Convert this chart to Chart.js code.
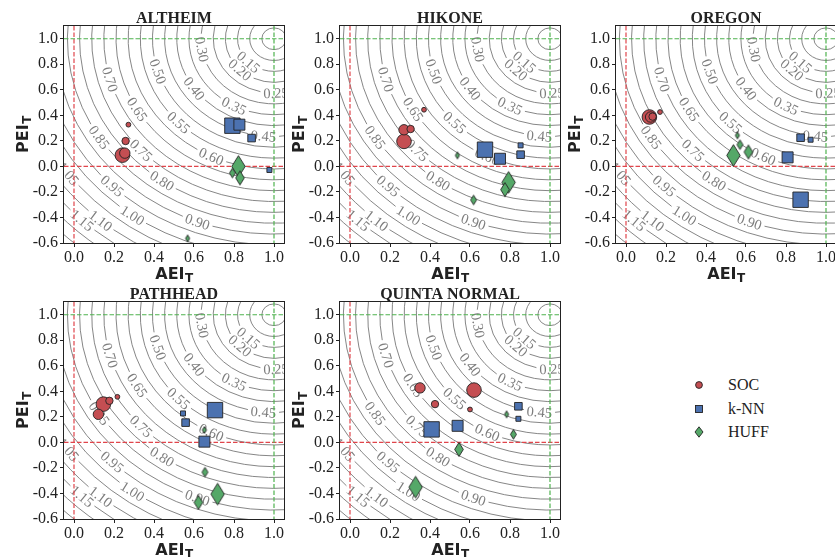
<!DOCTYPE html>
<html>
<head>
<meta charset="utf-8">
<script src="https://cdn.jsdelivr.net/npm/chart.js@4.4.1/dist/chart.umd.min.js"></script>
<style>
  html, body { margin: 0; padding: 0; background: #fff; width: 835px; height: 557px; overflow: hidden; position: relative; }
  canvas { position: absolute; }
  .leg { position: absolute; left: 690px; font-family: "Liberation Serif", serif; font-size: 16px; color: #222; height: 20px; line-height: 20px; }
  .leg svg { position: absolute; left: 0; top: 0; }
  .leg span { position: absolute; left: 38px; top: 0; white-space: nowrap; }
</style>
</head>
<body>
<div class="leg" style="top:375px"><svg width="20" height="20"><circle cx="9" cy="10" r="3.4" fill="#c44e52" stroke="#222" stroke-width="0.9"/></svg><span>SOC</span></div>
<div class="leg" style="top:399px"><svg width="20" height="20"><rect x="5.5" y="6.5" width="7" height="7" fill="#4c72b0" stroke="#222" stroke-width="0.9"/></svg><span>k-NN</span></div>
<div class="leg" style="top:422px"><svg width="20" height="20"><path d="M9 4.8 L13 10 L9 15.2 L5 10 Z" fill="#55a868" stroke="#222" stroke-width="0.9"/></svg><span>HUFF</span></div>
<script>
// panels, ticks
const panelNames = ["ALTHEIM", "HIKONE", "OREGON", "PATHHEAD", "QUINTA NORMAL"];
const xTicks = [0.0, 0.2, 0.4, 0.6, 0.8, 1.0];
const yTicks = [-0.6, -0.4, -0.2, 0.0, 0.2, 0.4, 0.6, 0.8, 1.0];

// SOC (circles): AEI_T, PEI_T and size class (0 = smallest .. 3 = largest), one row per panel
const socAEI = [[0.242, 0.254, 0.258, 0.272], [0.270, 0.270, 0.303, 0.370], [0.117, 0.123, 0.133, 0.170], [0.147, 0.122, 0.177, 0.217], [0.620, 0.350, 0.425, 0.600]];
const socPEI = [[0.088, 0.104, 0.199, 0.327], [0.196, 0.287, 0.293, 0.444], [0.387, 0.387, 0.390, 0.426], [0.300, 0.220, 0.326, 0.357], [0.410, 0.427, 0.300, 0.258]];
const socSize = [[3, 2, 1, 0], [3, 2, 1, 0], [3, 2, 1, 0], [3, 2, 1, 0], [3, 2, 1, 0]];

// k-NN (squares)
const knnAEI = [[0.792, 0.827, 0.888, 0.977], [0.675, 0.750, 0.853, 0.853], [0.873, 0.808, 0.873, 0.923], [0.705, 0.652, 0.558, 0.545], [0.408, 0.538, 0.842, 0.842]];
const knnPEI = [[0.319, 0.327, 0.222, -0.028], [0.131, 0.060, 0.092, 0.165], [-0.261, 0.071, 0.225, 0.209], [0.253, 0.006, 0.155, 0.227], [0.102, 0.130, 0.283, 0.185]];
const knnSize = [[3, 2, 1, 0], [3, 2, 1, 0], [3, 2, 1, 0], [3, 2, 1, 0], [3, 2, 1, 0]];

// HUFF (diamonds)
const huffAEI = [[0.822, 0.830, 0.792, 0.568], [0.793, 0.775, 0.618, 0.537], [0.537, 0.612, 0.570, 0.557], [0.718, 0.622, 0.655, 0.652], [0.328, 0.545, 0.817, 0.783]];
const huffPEI = [[0.000, -0.090, -0.052, -0.564], [-0.125, -0.182, -0.263, 0.086], [0.086, 0.113, 0.170, 0.243], [-0.405, -0.470, -0.233, 0.097], [-0.350, -0.055, 0.063, 0.220]];
const huffSize = [[3, 2, 1, 0], [3, 2, 1, 0], [3, 2, 1, 0], [3, 2, 1, 0], [3, 2, 1, 0]];

// background contour field sqrt(A*(1-AEI)^2 + B*(1-PEI)^2)
const fieldA = 0.677, fieldB = 0.346;
const contourLevels = [0.05, 0.10, 0.15, 0.20, 0.25, 0.30, 0.35, 0.40, 0.45, 0.50, 0.55, 0.60, 0.65, 0.70, 0.75, 0.80, 0.85, 0.90, 0.95, 1.00, 1.05, 1.10, 1.15, 1.20, 1.25];
const labelLevels = [0.15, 0.20, 0.25, 0.30, 0.35, 0.40, 0.45, 0.50, 0.55, 0.60, 0.65, 0.70, 0.75, 0.80, 0.85, 0.90, 0.95, 1.00, 1.05, 1.10, 1.15];
const labelAEI = [0.860, 0.827, 1.010, 0.647, 0.797, 0.605, 0.947, 0.420, 0.520, 0.680, 0.313, 0.172, 0.330, 0.438, 0.105, 0.613, 0.180, 0.288, -0.037, 0.122, 0.022];
const labelPEI = [0.800, 0.752, 0.575, 0.919, 0.465, 0.614, 0.240, 0.744, 0.340, 0.058, 0.444, 0.679, 0.118, -0.118, 0.209, -0.449, -0.169, -0.391, -0.065, -0.443, -0.449];

const RED = "#c44e52", BLUE = "#4c72b0", GREEN = "#55a868", EDGE = "#222";
const circleR = [2.4, 3.7, 5.2, 7.3];
const squareHalf = [2.5, 3.8, 5.5, 7.7];
const diamondHalf = [3.4, 4.8, 7.0, 10.8];

function diamondImg(h) {
  const w = h * 0.62;
  const c = document.createElement("canvas");
  c.width = Math.ceil(2 * w + 3);
  c.height = Math.ceil(2 * h + 3);
  const g = c.getContext("2d");
  const cx = c.width / 2, cy = c.height / 2;
  g.beginPath();
  g.moveTo(cx, cy - h); g.lineTo(cx + w, cy); g.lineTo(cx, cy + h); g.lineTo(cx - w, cy);
  g.closePath();
  g.fillStyle = GREEN; g.fill();
  g.lineWidth = 0.9; g.strokeStyle = EDGE; g.stroke();
  return c;
}
const diamonds = diamondHalf.map(diamondImg);

const contourPlugin = {
  id: "contours",
  beforeDatasetsDraw(chart) {
    const { ctx, chartArea: a, scales: { x, y } } = chart;
    ctx.save();
    ctx.beginPath();
    ctx.rect(a.left, a.top, a.right - a.left, a.bottom - a.top);
    ctx.clip();
    const cx = x.getPixelForValue(1), cy = y.getPixelForValue(1);
    const ux = Math.abs(x.getPixelForValue(0) - cx), uy = Math.abs(y.getPixelForValue(0) - cy);
    ctx.font = '14.5px "Liberation Serif"';
    ctx.lineWidth = 0.85;
    ctx.strokeStyle = "#707070";
    contourLevels.forEach((lv) => {
      const rx = lv / Math.sqrt(fieldA) * ux, ry = lv / Math.sqrt(fieldB) * uy;
      const li = labelLevels.findIndex((v) => Math.abs(v - lv) < 1e-6);
      ctx.beginPath();
      if (li < 0) {
        ctx.ellipse(cx, cy, rx, ry, 0, 0, 2 * Math.PI);
        ctx.stroke();
        return;
      }
      const dx0 = 1 - labelAEI[li], dy0 = 1 - labelPEI[li];
      const phi = Math.atan2(dy0 * Math.sqrt(fieldB), dx0 * Math.sqrt(fieldA));
      const th = Math.PI - phi;
      const txt = lv.toFixed(2);
      const tw = ctx.measureText(txt).width;
      const speed = Math.sqrt(rx * rx * Math.sin(phi) ** 2 + ry * ry * Math.cos(phi) ** 2);
      const dth = (tw / 2 + 3) / speed;
      ctx.ellipse(cx, cy, rx, ry, 0, th + dth, th - dth + 2 * Math.PI);
      ctx.stroke();
      const px = cx - rx * Math.cos(phi), py = cy + ry * Math.sin(phi);
      let ang = Math.atan2(ry * Math.cos(phi), rx * Math.sin(phi));
      if (ang > Math.PI / 2) ang -= Math.PI;
      if (ang < -Math.PI / 2) ang += Math.PI;
      ctx.save();
      ctx.translate(px, py);
      ctx.rotate(ang);
      ctx.fillStyle = "#7d7d7d";
      ctx.textAlign = "center";
      ctx.textBaseline = "middle";
      ctx.fillText(txt, 0, 1);
      ctx.restore();
    });
    // reference lines
    ctx.lineWidth = 1.2;
    ctx.setLineDash([4.5, 2]);
    const vline = (v, col) => {
      const p = x.getPixelForValue(v);
      ctx.strokeStyle = col; ctx.beginPath(); ctx.moveTo(p, a.top); ctx.lineTo(p, a.bottom); ctx.stroke();
    };
    const hline = (v, col) => {
      const p = y.getPixelForValue(v);
      ctx.strokeStyle = col; ctx.beginPath(); ctx.moveTo(a.left, p); ctx.lineTo(a.right, p); ctx.stroke();
    };
    vline(0, "#e0454b"); hline(0, "#e0454b");
    vline(1, "#4fb24f"); hline(1, "#4fb24f");
    ctx.restore();
  },
  afterDatasetsDraw(chart) {
    const { ctx, chartArea: a } = chart;
    ctx.save();
    ctx.strokeStyle = "#222";
    ctx.lineWidth = 1;
    ctx.strokeRect(Math.round(a.left) - 0.5, Math.round(a.top) - 0.5, Math.round(a.right - a.left) + 1, Math.round(a.bottom - a.top) + 1);
    ctx.restore();
  },
  afterDraw(chart) {
    const { ctx, chartArea: a } = chart;
    const name = chart.options.plugins.panelName;
    ctx.save();
    ctx.fillStyle = "#222";
    ctx.textAlign = "center";
    ctx.textBaseline = "alphabetic";
    ctx.font = 'bold 16px "Liberation Serif"';
    ctx.fillText(name, (a.left + a.right) / 2, a.top - 3.5);
    // axis titles with subscript T
    const drawSub = (main, bx, by) => {
      ctx.font = 'bold 16px "DejaVu Sans"';
      const mw = ctx.measureText(main).width;
      ctx.font = 'bold 12px "DejaVu Sans"';
      const sw = ctx.measureText("T").width;
      const x0 = bx - (mw + sw) / 2;
      ctx.textAlign = "left";
      ctx.font = 'bold 16px "DejaVu Sans"';
      ctx.fillText(main, x0, by);
      ctx.font = 'bold 12px "DejaVu Sans"';
      ctx.fillText("T", x0 + mw + 0.5, by + 3);
    };
    drawSub("AEI", (a.left + a.right) / 2, a.bottom + 36);
    ctx.save();
    ctx.translate(a.left - 36, (a.top + a.bottom) / 2);
    ctx.rotate(-Math.PI / 2);
    drawSub("PEI", 0, 0);
    ctx.restore();
    ctx.restore();
  }
};

const canvasLeft = [0, 276, 552, 0, 276];
const canvasTop = [0, 0, 0, 276, 276];
const canvasHeight = [290, 290, 290, 281, 281];

panelNames.forEach((name, p) => {
  const cv = document.createElement("canvas");
  cv.width = 290;
  cv.height = canvasHeight[p];
  cv.style.left = canvasLeft[p] + "px";
  cv.style.top = canvasTop[p] + "px";
  document.body.appendChild(cv);
  const pts = (xs, ys) => xs[p].map((v, i) => ({ x: v, y: ys[p][i] }));
  const tickFont = { family: "Liberation Serif", size: 16 };
  new Chart(cv.getContext("2d"), {
    type: "scatter",
    data: {
      datasets: [
        {
          label: "SOC",
          data: pts(socAEI, socPEI),
          pointStyle: "circle",
          pointRadius: (c) => circleR[socSize[p][c.dataIndex]],
          backgroundColor: RED, borderColor: EDGE, borderWidth: 0.9,
          order: 3,
        },
        {
          label: "k-NN",
          data: pts(knnAEI, knnPEI),
          pointStyle: "rect",
          pointRadius: (c) => squareHalf[knnSize[p][c.dataIndex]] / Math.SQRT1_2,
          backgroundColor: BLUE, borderColor: EDGE, borderWidth: 0.9,
          order: 2,
        },
        {
          label: "HUFF",
          data: pts(huffAEI, huffPEI),
          pointStyle: (c) => diamonds[huffSize[p][c.dataIndex]],
          pointRadius: (c) => diamondHalf[huffSize[p][c.dataIndex]],
          backgroundColor: GREEN, borderColor: EDGE, borderWidth: 0.9,
          order: 1,
        },
      ],
    },
    options: {
      responsive: false,
      animation: false,
      events: [],
      layout: { autoPadding: false, padding: { left: 0, top: 26, right: 6, bottom: 0 } },
      plugins: { legend: { display: false }, tooltip: { enabled: false }, panelName: name },
      scales: {
        x: {
          type: "linear", min: -0.05, max: 1.05,
          afterBuildTicks: (s) => { s.ticks = xTicks.map((v) => ({ value: v })); },
          afterFit: (s) => { s.height = canvasHeight[p] - 26 - 217; s.paddingLeft = 0; s.paddingRight = 0; },
          ticks: { font: tickFont, color: "#222", padding: 1, maxRotation: 0, callback: (v) => Number(v).toFixed(1) },
          grid: { drawOnChartArea: false, drawTicks: true, tickLength: 4, tickColor: "#222" },
          border: { display: false },
        },
        y: {
          type: "linear", min: -0.6, max: 1.1,
          afterBuildTicks: (s) => { s.ticks = yTicks.map((v) => ({ value: v })); },
          afterFit: (s) => { s.width = 64; s.paddingTop = 0; s.paddingBottom = 0; },
          ticks: { font: tickFont, color: "#222", padding: 2, callback: (v) => Number(v).toFixed(1) },
          grid: { drawOnChartArea: false, drawTicks: true, tickLength: 4, tickColor: "#222" },
          border: { display: false },
        },
      },
    },
    plugins: [contourPlugin],
  });
});
</script>
</body>
</html>
